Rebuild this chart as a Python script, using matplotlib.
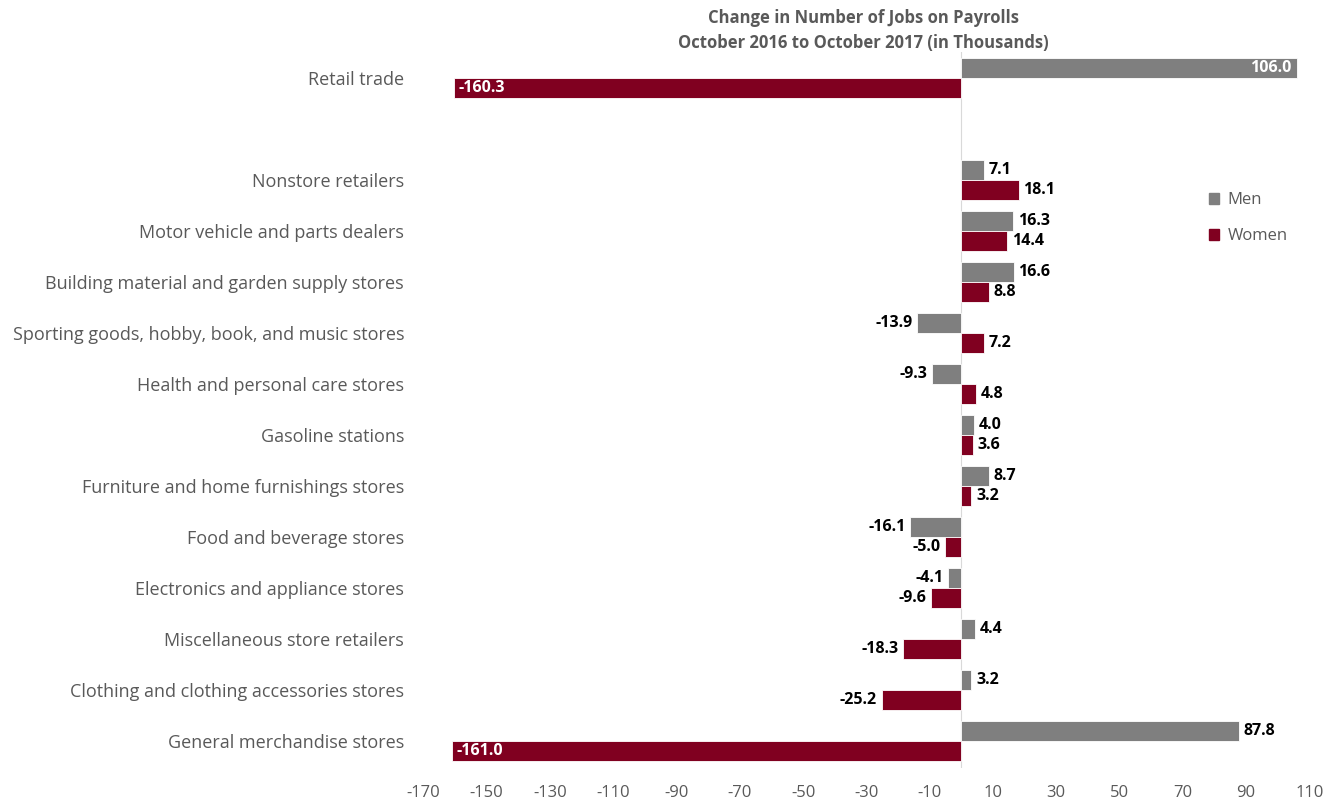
import matplotlib.pyplot as plt
import numpy as np

categories = ["Retail trade", "", "Nonstore retailers", "Motor vehicle and parts dealers",
              "Building material and garden supply stores",
              "Sporting goods, hobby, book, and music stores",
              "Health and personal care stores", "Gasoline stations",
              "Furniture and home furnishings stores", "Food and beverage stores",
              "Electronics and appliance stores", "Miscellaneous store retailers",
              "Clothing and clothing accessories stores", "General merchandise stores"]
men = [106.0, None, 7.1, 16.3, 16.6, -13.9, -9.3, 4.0, 8.7, -16.1, -4.1, 4.4, 3.2, 87.8]
women = [-160.3, None, 18.1, 14.4, 8.8, 7.2, 4.8, 3.6, 3.2, -5.0, -9.6, -18.3, -25.2, -161.0]
inside_labels = {("men", 0), ("women", 0), ("women", 13)}

plt.rcParams['font.family'] = ['Open Sans', 'DejaVu Sans']
plt.rcParams['axes.unicode_minus'] = False
men_color = "#7f7f7f"
women_color = "#800020"
text_gray = "#595959"

fig = plt.figure(figsize=(13.38, 8.02), dpi=100)
ax = fig.add_axes([0.3165, 0.0424, 0.662, 0.8928])

y = np.arange(len(categories))
h = 0.4
for name, vals, off, col in [("men", men, -0.2, men_color), ("women", women, 0.2, women_color)]:
    for i, v in enumerate(vals):
        if v is None:
            continue
        ax.barh(y[i] + off, v, height=h, color=col, edgecolor="white", linewidth=0.6)
        lab = f"{v:.1f}"
        if (name, i) in inside_labels:
            ha = "right" if v > 0 else "left"
            x = v - 1.5 if v > 0 else v + 1.5
            ax.text(x, y[i] + off, lab, ha=ha, va="center", color="white",
                    fontsize=11.5, fontweight="bold")
        else:
            ha = "left" if v > 0 else "right"
            x = v + 1.5 if v > 0 else v - 1.5
            ax.text(x, y[i] + off, lab, ha=ha, va="center", color="black",
                    fontsize=11.5, fontweight="bold")

ax.axvline(0, color="#d9d9d9", linewidth=0.8, zorder=0)
ax.set_xlim(-170, 110)
ax.set_xticks(np.arange(-170, 111, 20))
ax.set_ylim(13.53, -0.51)
ax.set_yticks([i for i, c in enumerate(categories) if c])
ax.set_yticklabels([c for c in categories if c], fontsize=13, color=text_gray)
ax.tick_params(axis="both", length=0)
ax.tick_params(axis="y", pad=14)
ax.tick_params(axis="x", pad=12, labelsize=12, labelcolor=text_gray)
for s in ax.spines.values():
    s.set_visible(False)

fig.text(0.645, 0.978, "Change in Number of Jobs on Payrolls", ha="center", va="center",
         fontsize=12, fontweight="bold", color=text_gray)
fig.text(0.645, 0.946, "October 2016 to October 2017 (in Thousands)", ha="center", va="center",
         fontsize=12, fontweight="bold", color=text_gray)

from matplotlib.patches import Patch
handles = [Patch(color=men_color, label="Men"), Patch(color=women_color, label="Women")]
ax.legend(handles=handles, loc="upper left", bbox_to_anchor=(0.87, 0.825), frameon=False,
          fontsize=12, labelcolor=text_gray, handlelength=0.6, handleheight=0.6,
          handletextpad=0.5, labelspacing=1.2)

fig.savefig("out.png", dpi=100)
